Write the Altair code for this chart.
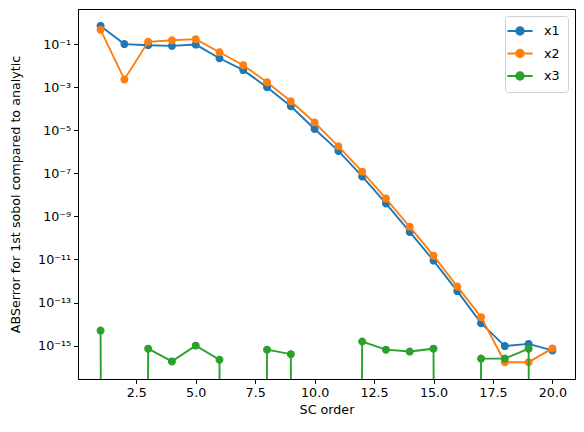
import altair as alt
import pandas as pd

# ---- data ----
order = list(range(1, 21))
series_names = ["x1", "x2", "x3"]
x1 = [0.7, 0.1, 0.089, 0.083, 0.095, 0.022, 0.0062, 0.001, 1.3e-4, 1.15e-5,
      1.1e-6, 7.2e-8, 4.0e-9, 1.9e-10, 8.9e-12, 3.4e-13, 1.1e-14, 9.5e-16, 1.2e-15, 6.0e-16]
x2 = [0.46, 0.0023, 0.128, 0.15, 0.17, 0.042, 0.0105, 0.0017, 2.2e-4, 2.3e-5,
      1.8e-6, 1.2e-7, 6.7e-9, 3.3e-10, 1.5e-11, 5.5e-13, 2.1e-14, 1.7e-16, 1.7e-16, 7.4e-16]
x3 = [5.0e-15, 0, 7.2e-16, 1.85e-16, 1.0e-15, 2.2e-16, 0, 6.5e-16, 4.0e-16, 0,
      0, 1.55e-15, 6.5e-16, 5.3e-16, 7.2e-16, 0, 2.5e-16, 2.5e-16, 7.2e-16, 0]
xtick_values = [2.5, 5.0, 7.5, 10.0, 12.5, 15.0, 17.5, 20.0]
ytick_exponents = [-1, -3, -5, -7, -9, -11, -13, -15]

colors = ["#1f77b4", "#ff7f0e", "#2ca02c"]

rows = []
for name, vals in zip(series_names, [x1, x2, x3]):
    for o, v in zip(order, vals):
        rows.append({"order": o, "err": v, "series": name})
df = pd.DataFrame(rows)

FONT = "DejaVu Sans"
FS = 12.7

xscale = alt.Scale(domain=[0.05, 20.95], nice=False, zero=False)
yscale = alt.Scale(type="log", domain=[10 ** -16.55, 10 ** 0.63], nice=False)
cscale = alt.Scale(domain=series_names, range=colors)

exp_expr = "abs(round(log(datum.value)/LN10))"
label_expr = (
    "'10⁻' + (" + exp_expr + " >= 10 ? '¹' : '') + "
    "substring('⁰¹²³⁴⁵⁶⁷⁸⁹', " + exp_expr + " % 10, " + exp_expr + " % 10 + 1)"
)

xaxis = alt.Axis(values=xtick_values, format=".1f", title="SC order", grid=False,
                 tickSize=4.4, labelPadding=3, titlePadding=4, labelFlush=False)
yaxis = alt.Axis(values=[10.0 ** e for e in ytick_exponents], labelExpr=label_expr,
                 title="ABSerror for 1st sobol compared to analytic", grid=False,
                 tickSize=4.4, labelPadding=3, labelOverlap=False,
                 titleX=-59, titleY=185, titleBaseline="alphabetic", titleAngle=270)

legend = alt.Legend(
    title=None, orient="top-right", offset=7,
    symbolType="M-2.1,0H2.1M-0.63,0A0.63,0.63 0 1,1 0.63,0A0.63,0.63 0 1,1 -0.63,0Z",
    symbolSize=144, symbolStrokeWidth=1.9, symbolOpacity=1,
    labelFont=FONT, labelFontSize=FS, labelColor="black", labelOffset=17,
    fillColor="rgba(255,255,255,0.8)", strokeColor="#d0d0d0", cornerRadius=3,
    padding=8, rowPadding=6.5,
)

base = alt.Chart(df)
layers = []
for name, col in zip(series_names, colors):
    line = base.transform_filter(alt.datum.series == name).transform_calculate(
        yv="max(datum.err, 1e-300)"
    ).mark_line(strokeWidth=1.9, clip=True, color=col).encode(
        x=alt.X("order:Q", scale=xscale, axis=xaxis),
        y=alt.Y("yv:Q", scale=yscale, axis=yaxis),
    )
    pts = base.transform_filter(alt.datum.series == name).transform_filter(
        alt.datum.err > 0
    ).transform_calculate(yv="datum.err").mark_point(
        shape="circle", filled=False, size=45, strokeWidth=1.27, opacity=1, clip=True
    ).encode(
        x=alt.X("order:Q", scale=xscale, axis=xaxis),
        y=alt.Y("yv:Q", scale=yscale, axis=yaxis),
        color=alt.Color("series:N", scale=cscale, legend=legend),
        fill=alt.Fill("series:N", scale=cscale, legend=legend),
    )
    layers += [line, pts]

chart = alt.layer(*layers).properties(
    width=497, height=370, background="white",
    padding={"left": 0, "top": 1, "right": 1, "bottom": 0},
    view=alt.ViewBackground(stroke="black", strokeWidth=1),
).configure_view(
    stroke="black", strokeWidth=1
).configure_axis(
    labelFont=FONT, labelFontSize=FS, labelColor="black",
    titleFont=FONT, titleFontSize=FS, titleColor="black", titleFontWeight="normal",
    domainColor="black", tickColor="black", domainWidth=1, tickWidth=1,
)

chart.save("out.html", embed_options={"renderer": "svg", "actions": False})
